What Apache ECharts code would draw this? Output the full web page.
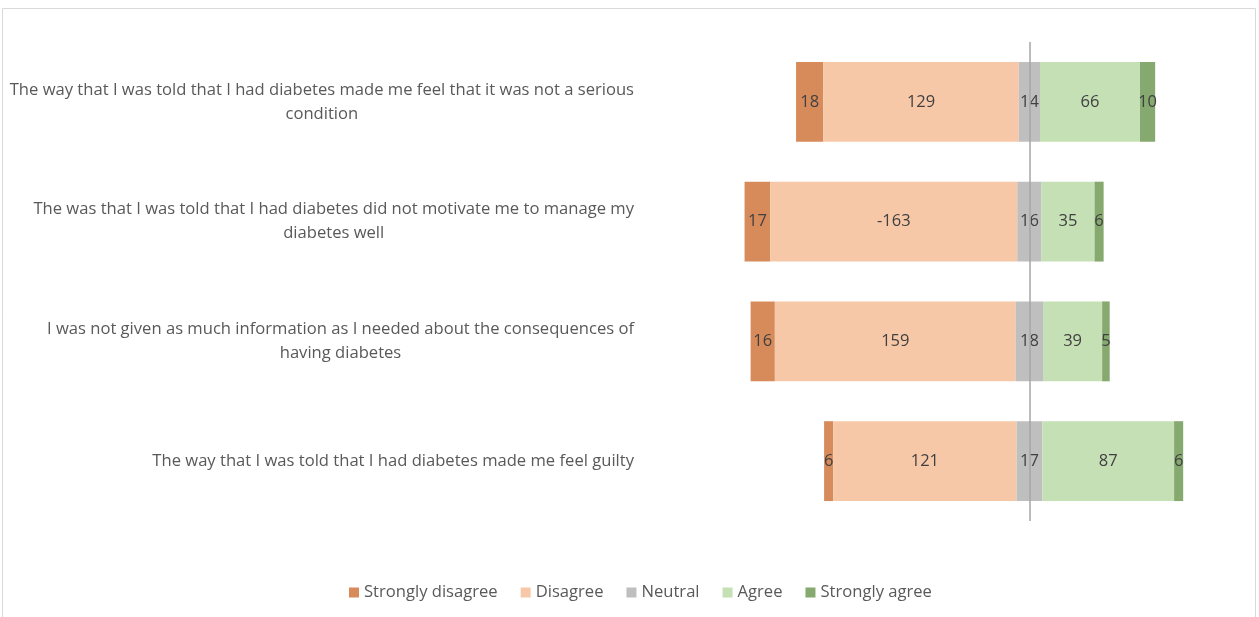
<!DOCTYPE html>
<html>
<head>
<meta charset="utf-8">
<script src="https://cdn.jsdelivr.net/npm/echarts@6/dist/echarts.min.js"></script>
<style>
  html, body { margin: 0; padding: 0; background: #fff; }
  #chart { width: 1259px; height: 617px; }
</style>
</head>
<body>
<div id="chart"></div>
<script>
const categories = [
  "The way that I was told that I had diabetes made me feel that it was not a serious\ncondition",
  "The was that I was told that I had diabetes did not motivate me to manage my\ndiabetes well",
  "I was not given as much information as I needed about the consequences of\nhaving diabetes",
  "The way that I was told that I had diabetes made me feel guilty"
];
const legendNames = ["Strongly disagree", "Disagree", "Neutral", "Agree", "Strongly agree"];
const stronglyDisagree = [18, 17, 16, 6];
const disagree = [129, -163, 159, 121];   // labels as printed on the chart
const neutral = [14, 16, 18, 17];
const agree = [66, 35, 39, 87];
const stronglyAgree = [10, 6, 5, 6];
const colors = ["#d78b5b", "#f7c8a8", "#bfbfbf", "#c5e0b4", "#86a96f"];

// invisible offset so neutral straddles zero
const offset = categories.map((_, i) =>
  -(stronglyDisagree[i] + Math.abs(disagree[i]) + neutral[i] / 2));

const font = "'Open Sans', 'Liberation Sans', sans-serif";
const raw = [stronglyDisagree, disagree, neutral, agree, stronglyAgree];

const barSeries = raw.map((arr, k) => ({
  name: legendNames[k],
  type: "bar",
  stack: "likert",
  stackStrategy: "all",
  barCategoryGap: "33.3%",
  itemStyle: { color: colors[k] },
  label: {
    show: true,
    position: "inside",
    color: "#404040",
    fontFamily: font,
    fontSize: 16.5,
    formatter: (p) => String(arr[p.dataIndex])
  },
  data: arr.map(Math.abs)
}));

barSeries[2].markLine = {
  silent: true,
  symbol: "none",
  label: { show: false },
  lineStyle: { color: "#a6a6a6", width: 1.5, type: "solid" },
  data: [{ xAxis: 0 }]
};

const chart = echarts.init(document.getElementById("chart"));
chart.setOption({
  backgroundColor: "#fff",
  animation: false,
  graphic: [{
    type: "rect",
    shape: { x: 2.5, y: 8.5, width: 1253, height: 700 },
    style: { fill: "none", stroke: "#d9d9d9", lineWidth: 1 },
    silent: true
  }],
  grid: { left: 640, right: 19, top: 42, bottom: 96, containLabel: false },
  legend: {
    data: legendNames,
    bottom: 11,
    left: 344,
    icon: "rect",
    itemWidth: 10,
    itemHeight: 10,
    itemGap: 23,
    textStyle: { color: "#595959", fontSize: 16.6, fontFamily: font }
  },
  xAxis: {
    type: "value",
    min: -257,
    max: 139,
    show: false
  },
  yAxis: {
    type: "category",
    inverse: true,
    data: categories,
    axisLine: { show: false },
    axisTick: { show: false },
    splitLine: { show: false },
    axisLabel: {
      margin: 6,
      formatter: (v) => v.split("\n").map((l) => "{c|" + l + "}").join("\n"),
      rich: {
        c: { align: "center", color: "#595959", fontSize: 16.6, lineHeight: 24, fontFamily: font }
      }
    }
  },
  series: [{
    name: "offset",
    type: "bar",
    stack: "likert",
    stackStrategy: "all",
    silent: true,
    itemStyle: { color: "transparent" },
    data: offset
  }].concat(barSeries)
});
</script>
</body>
</html>
